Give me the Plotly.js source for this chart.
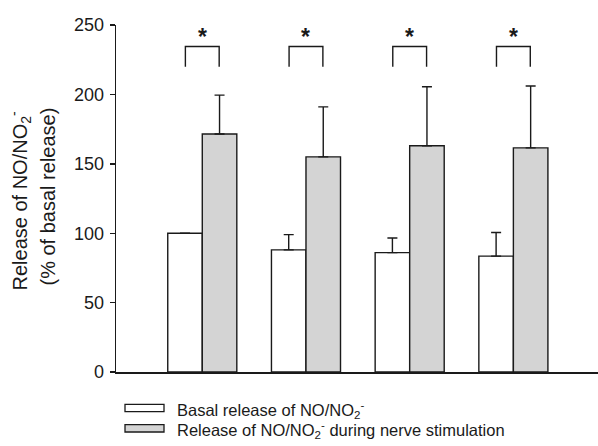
<!DOCTYPE html>
<html>
<head>
<meta charset="utf-8">
<script src="https://cdn.plot.ly/plotly-3.0.1.min.js"></script>
<style>html,body{margin:0;padding:0;background:#fff;}#chart{width:598px;height:446px;}</style>
</head>
<body>
<div id="chart"></div>
<script>
// ---- data ----
var groups = [0, 1, 2, 3];
var basal = [100, 88, 86, 83.5];
var basalErr = [null, 11, 10.5, 17];
var stim = [171.5, 155, 163, 161.5];
var stimErr = [28, 36, 42.5, 44.5];
var significant = [true, true, true, true];
var seriesNames = ['Basal release of NO/NO<sub>2</sub><sup>-</sup>',
                   'Release of NO/NO<sub>2</sub><sup>-</sup> during nerve stimulation'];
var yTicks = [0, 50, 100, 150, 200, 250];
var yTitle1 = 'Release of NO/NO<sub>2</sub><sup>-</sup>';
var yTitle2 = '(% of basal release)';

var FONT = 'Liberation Sans, Arial, Helvetica, sans-serif';
var INK = '#1a1a1a';
var GRAY = '#d4d4d4';

function zeros(a){ return a.map(function(){ return 0; }); }

var traces = [
  {
    type: 'bar', x: groups, y: basal, name: seriesNames[0], showlegend: false,
    marker: {color: '#ffffff', line: {color: INK, width: 1.4}},
    error_y: {type: 'data', symmetric: false, array: basalErr, arrayminus: zeros(basalErr),
              color: INK, thickness: 1.4, width: 5},
    hoverinfo: 'y'
  },
  {
    type: 'bar', x: groups, y: stim, name: seriesNames[1], showlegend: false,
    marker: {color: GRAY, line: {color: INK, width: 1.4}},
    error_y: {type: 'data', symmetric: false, array: stimErr, arrayminus: zeros(stimErr),
              color: INK, thickness: 1.4, width: 5},
    hoverinfo: 'y'
  }
];

// significance brackets + asterisks
var bracketTop = 234.5, bracketLeg = 220, half = 0.163;
var shapes = [], annotations = [];
groups.forEach(function(g, i){
  if(!significant[i]) return;
  shapes.push({
    type: 'path', xref: 'x', yref: 'y',
    path: 'M' + (g - half) + ',' + bracketLeg + ' L' + (g - half) + ',' + bracketTop +
          ' L' + (g + half) + ',' + bracketTop + ' L' + (g + half) + ',' + bracketLeg,
    line: {color: INK, width: 1.4}
  });
  annotations.push({
    xref: 'x', yref: 'y', x: g, y: bracketTop, text: '<b>*</b>', showarrow: false,
    xanchor: 'center', yanchor: 'bottom', yshift: -5,
    font: {family: FONT, size: 23, color: INK}
  });
});

// y-axis title, two lines
annotations.push({xref: 'paper', yref: 'paper', x: 0, y: 0.5, xanchor: 'center', yanchor: 'middle',
  xshift: -96, yshift: -2, textangle: -90, text: yTitle1, showarrow: false,
  font: {family: FONT, size: 20, color: INK}});
annotations.push({xref: 'paper', yref: 'paper', x: 0, y: 0.5, xanchor: 'center', yanchor: 'middle',
  xshift: -69, yshift: 2, textangle: -90, text: yTitle2, showarrow: false,
  font: {family: FONT, size: 20, color: INK}});

// manual legend
var legendFills = ['#ffffff', GRAY];
var legendRowsY = [-36, -56.3];
seriesNames.forEach(function(name, i){
  shapes.push({type: 'rect', xref: 'paper', yref: 'paper', xsizemode: 'pixel', ysizemode: 'pixel',
    xanchor: 0, yanchor: 0, x0: 9, x1: 48, y0: legendRowsY[i] + 3.7, y1: legendRowsY[i] - 3.7,
    fillcolor: legendFills[i], line: {color: INK, width: 1.3}});
  annotations.push({xref: 'paper', yref: 'paper', x: 0, y: 0, xanchor: 'left', yanchor: 'middle',
    xshift: 59, yshift: legendRowsY[i] - 1.5, text: name, showarrow: false,
    font: {family: FONT, size: 16.5, color: INK}});
});

var layout = {
  width: 598, height: 446,
  margin: {l: 116, r: 0, t: 25, b: 74, pad: 0},
  paper_bgcolor: '#ffffff', plot_bgcolor: '#ffffff',
  barmode: 'group', bargap: 0.334, bargroupgap: 0,
  showlegend: false,
  font: {family: FONT, color: INK},
  xaxis: {range: [-0.832, 3.816], showline: true, linecolor: INK, linewidth: 2,
          showticklabels: false, ticks: '', showgrid: false, zeroline: false, fixedrange: true},
  yaxis: {range: [0, 250], tickvals: yTicks, ticks: 'outside', ticklen: 5, tickwidth: 1.4,
          tickcolor: INK, showline: true, linecolor: INK, linewidth: 1.4, showgrid: false,
          zeroline: false, tickfont: {family: FONT, size: 18, color: INK}, ticklabelstandoff: 2},
  shapes: shapes,
  annotations: annotations
};

Plotly.newPlot('chart', traces, layout, {displayModeBar: false, staticPlot: true});
</script>
</body>
</html>
